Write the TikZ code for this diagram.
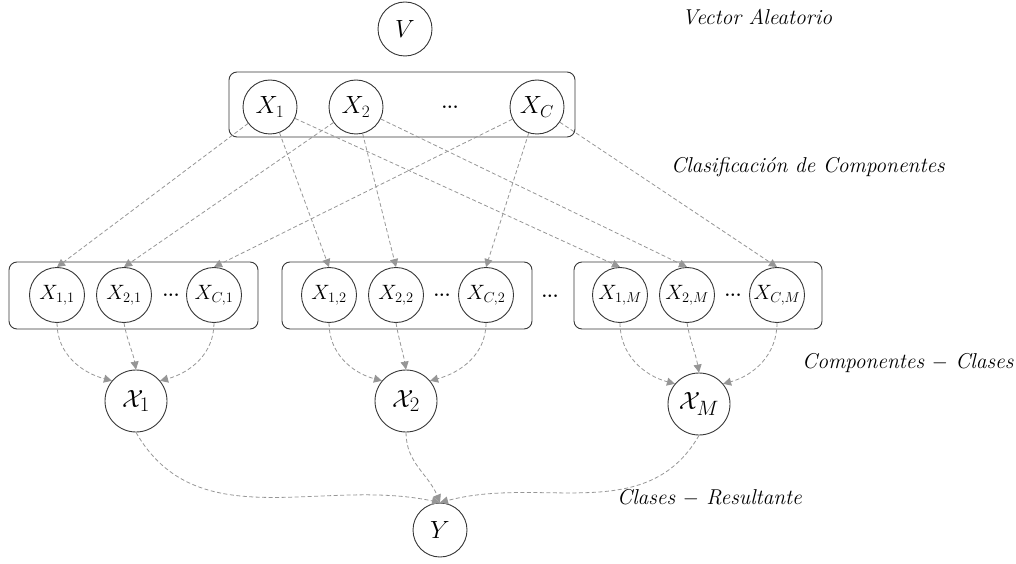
\documentclass[tikz,border=0pt]{standalone}
\usetikzlibrary{arrows.meta}
\definecolor{lc}{RGB}{150,150,150}
\definecolor{bc}{RGB}{55,55,55}
\begin{document}
\begin{tikzpicture}[x=1pt,y=1pt,
  big/.style={circle,draw=bc,line width=0.9pt,minimum size=54pt,inner sep=0pt,font=\fontsize{27}{30}\selectfont},
  mid/.style={circle,draw=bc,line width=0.9pt,minimum size=55pt,inner sep=0pt,font=\fontsize{21}{24}\selectfont},
  cal/.style={circle,draw=bc,line width=0.9pt,minimum size=62pt,inner sep=0pt,font=\fontsize{28}{32}\selectfont},
  grp/.style={draw=bc,line width=0.9pt,rounded corners=8pt,inner sep=0pt},
  dotsn/.style={inner sep=0pt,font=\fontsize{18}{20}\selectfont\bfseries},
  lab/.style={anchor=west,inner sep=0pt,font=\fontsize{21.5}{24}\selectfont\itshape},
  con/.style={draw=lc,line width=0.8pt,dash pattern=on 4pt off 2.5pt,-{Triangle[length=8pt,width=8pt,fill=lc]}}
]
\useasboundingbox (0,0) rectangle (1016,563);

% top
\node[big] (V) at (405,534) {$V$};
\node[grp,minimum width=346pt,minimum height=65pt] (top) at (402,458.5) {};
\node[big] (X1) at (270,456) {$X_1$};
\node[big] (X2) at (356,456) {$X_2$};
\node[dotsn] (td) at (450,456) {...};
\node[big] (XC) at (537,456) {$X_C$};

% middle groups
\node[grp,minimum width=249pt,minimum height=67pt] (g1) at (133.5,267.5) {};
\node[grp,minimum width=250pt,minimum height=67pt] (g2) at (407,267.5) {};
\node[grp,minimum width=248pt,minimum height=67pt] (g3) at (698,267.5) {};

\node[mid] (X11) at (57,268) {$X_{1,1}$};
\node[mid] (X21) at (124,268) {$X_{2,1}$};
\node[dotsn] (d1) at (171,268) {...};
\node[mid] (XC1) at (214,268) {$X_{C,1}$};

\node[mid] (X12) at (329,268) {$X_{1,2}$};
\node[mid] (X22) at (396,268) {$X_{2,2}$};
\node[dotsn] (d2) at (442,268) {...};
\node[mid] (XC2) at (486,268) {$X_{C,2}$};

\node[dotsn] (dm) at (550,267) {...};

\node[mid] (X1M) at (620,268) {$X_{1,M}$};
\node[mid] (X2M) at (687,268) {$X_{2,M}$};
\node[dotsn] (d3) at (733,268) {...};
\node[mid] (XCM) at (777,268) {$X_{C,M}$};

% classes
\node[cal] (C1) at (136,162) {$\mathcal{X}_1$};
\node[cal] (C2) at (406,162) {$\mathcal{X}_2$};
\node[cal] (CM) at (699,159) {$\mathcal{X}_M$};

\node[big] (Y) at (440,33) {$Y$};

% labels
\node[lab] (l1) at (682,546) {Vector Aleatorio};
\node[lab] (l2) at (671,396) {Clasificación de Componentes};
\node[lab] (l3) at (802,200) {Componentes $-$ Clases};
\node[lab] (l4) at (617,65) {Clases $-$ Resultante};

% top connectors
\foreach \s/\t in {X1/X11,X1/X12,X1/X1M,X2/X21,X2/X22,X2/X2M,XC/XC1,XC/XC2,XC/XCM}
  \draw[con] (\s) -- (\t.north);

% to classes
\foreach \a/\b/\c/\cc in {X11/X21/XC1/C1,X12/X22/XC2/C2,X1M/X2M/XCM/CM}{
  \draw[con] (\a.south) to[out=-90,in=165] (\cc.140);
  \draw[con] (\b.south) to[out=-80,in=100] (\cc.north);
  \draw[con] (\c.south) to[out=-90,in=15] (\cc.40);
}

% to Y
\draw[con] (C1.south) to[out=-60,in=168] (Y.north);
\draw[con] (C2.south) to[out=-90,in=112] (Y.north);
\draw[con] (CM.south) to[out=-120,in=15] (Y.north);
\end{tikzpicture}
\end{document}
